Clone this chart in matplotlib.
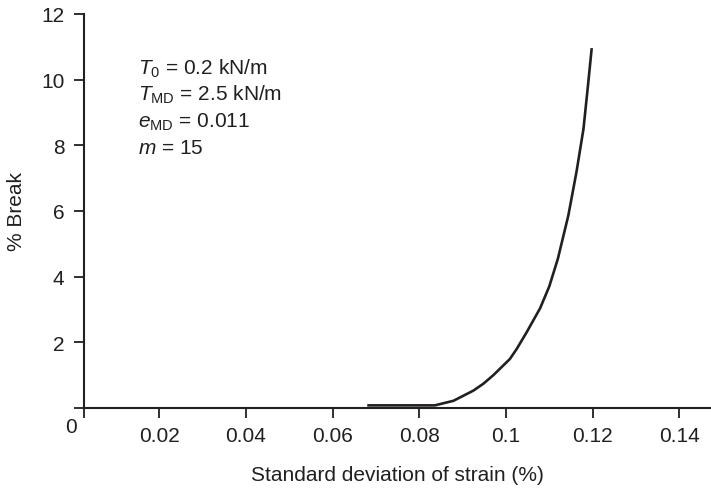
import matplotlib
matplotlib.use("Agg")
import matplotlib.pyplot as plt

# Data
strain_sd = [0.068, 0.0836, 0.0879, 0.0925, 0.0948, 0.0971, 0.1009, 0.1025, 0.1048,
             0.1079, 0.1100, 0.1120, 0.1144, 0.1163, 0.1179, 0.1190, 0.1198]
pct_break = [0.08, 0.08, 0.22, 0.53, 0.74, 1.00, 1.49, 1.80, 2.31,
             3.04, 3.70, 4.55, 5.86, 7.20, 8.50, 9.90, 10.96]

x_ticks = [0.02, 0.04, 0.06, 0.08, 0.10, 0.12, 0.14]
x_tick_labels = ["0.02", "0.04", "0.06", "0.08", "0.1", "0.12", "0.14"]
y_ticks = [2, 4, 6, 8, 10, 12]
y_tick_labels = ["2", "4", "6", "8", "10", "12"]

param_lines = [r"$T_0$ = 0.2 kN/m",
               r"$T_{\mathrm{MD}}$ = 2.5 kN/m",
               r"$e_{\mathrm{MD}}$ = 0.011",
               r"$m$ = 15"]

plt.rcParams['font.family'] = ['Liberation Sans', 'DejaVu Sans']
plt.rcParams['mathtext.fontset'] = 'custom'
plt.rcParams['mathtext.rm'] = 'Liberation Sans'
plt.rcParams['mathtext.it'] = 'Liberation Sans:italic'
plt.rcParams['mathtext.bf'] = 'Liberation Sans:bold'

INK = '#231f20'
FS = 15
W, H = 711, 489
fig = plt.figure(figsize=(W / 100, H / 100), dpi=100)
ax = fig.add_axes([84.3 / W, (H - 409) / H, (710 - 84.3) / W, (409 - 15) / H])

ax.plot(strain_sd, pct_break, color=INK, lw=1.9, solid_capstyle='butt',
        solid_joinstyle='round', clip_on=False)

xmin, xmax = 0.0027, 0.1471
ax.set_xlim(xmin, xmax)
ax.set_ylim(0, 12)

ax.set_xticks([xmin] + x_ticks)
ax.set_xticklabels([""] + x_tick_labels)
ax.set_yticks([0] + y_ticks)
ax.set_yticklabels([""] + y_tick_labels)

for s in ['top', 'right']:
    ax.spines[s].set_visible(False)
for s in ['left', 'bottom']:
    ax.spines[s].set_linewidth(1.5)
    ax.spines[s].set_color(INK)

ax.tick_params(axis='both', direction='out', length=7.2, width=1.3,
               colors=INK, labelsize=FS, labelcolor=INK)
ax.tick_params(axis='x', pad=6.0)
ax.tick_params(axis='y', pad=7.0)

ax.set_xlabel("Standard deviation of strain (%)", fontsize=FS, color=INK)
ax.set_ylabel("% Break", fontsize=FS, color=INK)
ax.xaxis.set_label_coords(0.5, (409 - 476) / 394)
ax.xaxis.label.set_va('center')
ax.yaxis.set_label_coords((17 - 84.3) / 625.7, 0.5)
ax.yaxis.label.set_va('center')

# corner "0" label
ax.text((71 - 84.3) / 625.7, (409 - 428) / 394, "0", transform=ax.transAxes,
        ha='center', va='center', fontsize=FS, color=INK)

# parameter block
x_txt = (138 - 84.3) / 625.7
for i, line in enumerate(param_lines):
    y_px = 75 + 26.2 * i
    ax.text(x_txt, (409 - y_px) / 394, line, transform=ax.transAxes,
            ha='left', va='baseline', fontsize=FS, color=INK)

fig.savefig("out.png", dpi=100)
